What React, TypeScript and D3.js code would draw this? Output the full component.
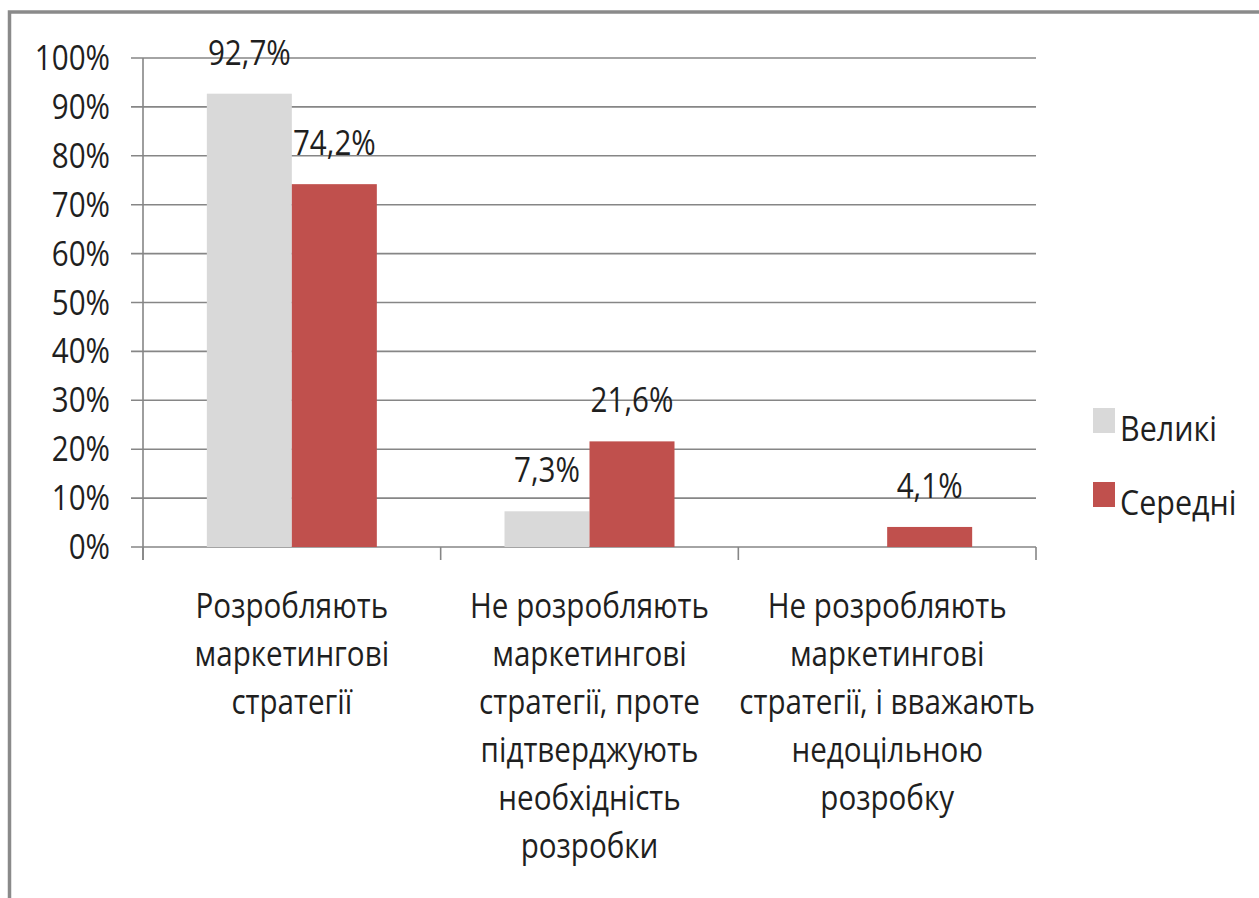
import React from "react";
import * as d3 from "d3";

const categories: string[][] = [
  ["Розробляють", "маркетингові", "стратегії"],
  ["Не розробляють", "маркетингові", "стратегії, проте", "підтверджують", "необхідність", "розробки"],
  ["Не розробляють", "маркетингові", "стратегії, і вважають", "недоцільною", "розробку"],
];
const seriesNames = ["Великі", "Середні"];
const seriesColors = ["#d9d9d9", "#c0504d"];
const velyki = [92.7, 7.3, 0];
const seredni = [74.2, 21.6, 4.1];
const yTicks = [0, 10, 20, 30, 40, 50, 60, 70, 80, 90, 100];

const W = 1259;
const H = 898;
const FONT = "'Open Sans', 'Noto Sans', sans-serif";
const SX = 0.87;
const TEXT = "#1f1f1f";
const GRID = "#868686";

function T({ x, y, anchor = "middle", size = 34, children }: any) {
  return (
    <g transform={`translate(${x},${y}) scale(${SX},1)`}>
      <text x={0} y={0} textAnchor={anchor} fontFamily={FONT} fontSize={size} fill={TEXT}>
        {children}
      </text>
    </g>
  );
}

export default function App() {
  const left = 143;
  const right = 1036;
  const y0 = 547;
  const y100 = 58;
  const x = d3.scaleBand<number>().domain(d3.range(categories.length)).range([left, right]).padding(0);
  const inner = d3.scaleBand<string>().domain(seriesNames).range([0, x.bandwidth()]).paddingInner(0).paddingOuter(0.751);
  const y = d3.scaleLinear().domain([0, 100]).range([y0, y100]);
  const series = [velyki, seredni];
  const fmt = (v: number) => v.toFixed(1).replace(".", ",") + "%";
  const boundaries = d3.range(categories.length + 1).map((i) => (i < categories.length ? (x(i) as number) : right));

  return (
    <svg width={W} height={H} style={{ position: "absolute", left: 0, top: 0, background: "#fff" }}>
      <rect x={0} y={0} width={W} height={H} fill="#fff" />
      <rect x={9.5} y={12} width={W + 20} height={H + 20} fill="none" stroke="#8a8a8a" strokeWidth={3.5} />
      {yTicks.map((t) => (
        <g key={t}>
          <line x1={131} x2={right} y1={y(t)} y2={y(t)} stroke={GRID} strokeWidth={1.6} />
          <T x={110} y={y(t) + 12} anchor="end">{t + "%"}</T>
        </g>
      ))}
      <line x1={left} x2={left} y1={y100} y2={560} stroke={GRID} strokeWidth={1.6} />
      {boundaries.map((b, i) => (
        <line key={i} x1={b} x2={b} y1={y0} y2={560} stroke={GRID} strokeWidth={1.6} />
      ))}
      {series.map((vals, si) =>
        vals.map((v, ci) => {
          const bx = (x(ci) as number) + (inner(seriesNames[si]) as number);
          const bw = inner.bandwidth();
          return (
            <g key={`${si}-${ci}`}>
              {v > 0 && <rect x={bx} y={y(v)} width={bw} height={y0 - y(v)} fill={seriesColors[si]} />}
              {v > 0 && <T x={bx + bw / 2} y={y(v) - 29}>{fmt(v)}</T>}
            </g>
          );
        })
      )}
      {categories.map((lines, ci) => {
        const cx = (x(ci) as number) + x.bandwidth() / 2;
        return lines.map((ln, li) => (
          <T key={`${ci}-${li}`} x={cx} y={618 + li * 48}>{ln}</T>
        ));
      })}
      {seriesNames.map((name, si) => (
        <g key={name}>
          <rect x={1093} y={408 + si * 74} width={22} height={25} fill={seriesColors[si]} />
          <T x={1120} y={441 + si * 74} anchor="start" size={35}>{name}</T>
        </g>
      ))}
    </svg>
  );
}
